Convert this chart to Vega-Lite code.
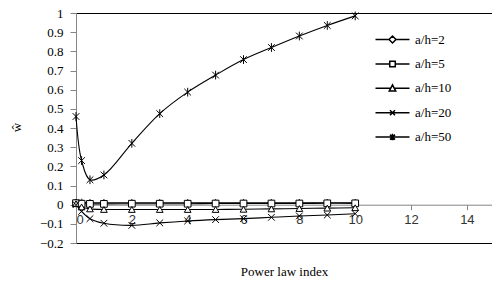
{
  "$schema": "https://vega.github.io/schema/vega-lite/v6.json",
  "width": 416,
  "height": 230,
  "autosize": "none",
  "padding": {"left": 76, "top": 13, "right": 0, "bottom": 39},
  "background": "white",
  "config": {"view": {"stroke": "black", "strokeWidth": 1}, "font": "Liberation Serif"},
  "data": {"values": [
    {"series": "a/h=2", "x": 0, "y": 0.012}, {"series": "a/h=2", "x": 0.2, "y": 0.011}, {"series": "a/h=2", "x": 0.5, "y": 0.01}, {"series": "a/h=2", "x": 1, "y": 0.01}, {"series": "a/h=2", "x": 2, "y": 0.01}, {"series": "a/h=2", "x": 3, "y": 0.01}, {"series": "a/h=2", "x": 4, "y": 0.01}, {"series": "a/h=2", "x": 5, "y": 0.01}, {"series": "a/h=2", "x": 6, "y": 0.01}, {"series": "a/h=2", "x": 7, "y": 0.01}, {"series": "a/h=2", "x": 8, "y": 0.01}, {"series": "a/h=2", "x": 9, "y": 0.01}, {"series": "a/h=2", "x": 10, "y": 0.01},
    {"series": "a/h=5", "x": 0, "y": 0.008}, {"series": "a/h=5", "x": 0.2, "y": 0.005}, {"series": "a/h=5", "x": 0.5, "y": 0.004}, {"series": "a/h=5", "x": 1, "y": 0.004}, {"series": "a/h=5", "x": 2, "y": 0.005}, {"series": "a/h=5", "x": 3, "y": 0.005}, {"series": "a/h=5", "x": 4, "y": 0.005}, {"series": "a/h=5", "x": 5, "y": 0.006}, {"series": "a/h=5", "x": 6, "y": 0.006}, {"series": "a/h=5", "x": 7, "y": 0.006}, {"series": "a/h=5", "x": 8, "y": 0.006}, {"series": "a/h=5", "x": 9, "y": 0.007}, {"series": "a/h=5", "x": 10, "y": 0.007},
    {"series": "a/h=10", "x": 0, "y": 0.005}, {"series": "a/h=10", "x": 0.2, "y": -0.012}, {"series": "a/h=10", "x": 0.5, "y": -0.022}, {"series": "a/h=10", "x": 1, "y": -0.025}, {"series": "a/h=10", "x": 2, "y": -0.025}, {"series": "a/h=10", "x": 3, "y": -0.025}, {"series": "a/h=10", "x": 4, "y": -0.025}, {"series": "a/h=10", "x": 5, "y": -0.025}, {"series": "a/h=10", "x": 6, "y": -0.024}, {"series": "a/h=10", "x": 7, "y": -0.022}, {"series": "a/h=10", "x": 8, "y": -0.02}, {"series": "a/h=10", "x": 9, "y": -0.018}, {"series": "a/h=10", "x": 10, "y": -0.016},
    {"series": "a/h=20", "x": 0, "y": 0.0}, {"series": "a/h=20", "x": 0.2, "y": -0.035}, {"series": "a/h=20", "x": 0.5, "y": -0.073}, {"series": "a/h=20", "x": 1, "y": -0.097}, {"series": "a/h=20", "x": 2, "y": -0.108}, {"series": "a/h=20", "x": 3, "y": -0.095}, {"series": "a/h=20", "x": 4, "y": -0.085}, {"series": "a/h=20", "x": 5, "y": -0.078}, {"series": "a/h=20", "x": 6, "y": -0.073}, {"series": "a/h=20", "x": 7, "y": -0.066}, {"series": "a/h=20", "x": 8, "y": -0.059}, {"series": "a/h=20", "x": 9, "y": -0.054}, {"series": "a/h=20", "x": 10, "y": -0.047},
    {"series": "a/h=50", "x": 0, "y": 0.46}, {"series": "a/h=50", "x": 0.2, "y": 0.23}, {"series": "a/h=50", "x": 0.5, "y": 0.13}, {"series": "a/h=50", "x": 1, "y": 0.155}, {"series": "a/h=50", "x": 2, "y": 0.32}, {"series": "a/h=50", "x": 3, "y": 0.475}, {"series": "a/h=50", "x": 4, "y": 0.587}, {"series": "a/h=50", "x": 5, "y": 0.676}, {"series": "a/h=50", "x": 6, "y": 0.757}, {"series": "a/h=50", "x": 7, "y": 0.82}, {"series": "a/h=50", "x": 8, "y": 0.88}, {"series": "a/h=50", "x": 9, "y": 0.935}, {"series": "a/h=50", "x": 10, "y": 0.985}
  ]},
  "encoding": {
    "x": {
      "field": "x", "type": "quantitative",
      "scale": {"domain": [0, 14.9], "nice": false, "zero": false},
      "axis": {
        "values": [0, 2, 4, 6, 8, 10, 12, 14],
        "offset": -38.3,
        "grid": false,
        "domainColor": "#868686", "tickColor": "#868686", "tickSize": 5,
        "labelFont": "Liberation Sans", "labelFontSize": 13, "labelColor": "#333333", "labelPadding": 4,
        "title": "Power law index", "titleFont": "Liberation Serif", "titleFontSize": 13, "titleFontWeight": "normal",
        "titleY": 67, "titleBaseline": "middle", "titleColor": "black"
      }
    },
    "y": {
      "field": "y", "type": "quantitative",
      "scale": {"domain": [-0.2, 1], "nice": false, "zero": false},
      "axis": {
        "values": [-0.2, -0.1, 0, 0.1, 0.2, 0.3, 0.4, 0.5, 0.6, 0.7, 0.8, 0.9, 1],
        "format": "~g",
        "grid": false,
        "domainColor": "#868686", "tickColor": "#868686", "tickSize": 6,
        "labelFont": "Liberation Serif", "labelFontSize": 13, "labelColor": "black", "labelPadding": 7,
        "title": "ŵ", "titleFont": "Liberation Serif", "titleFontSize": 13, "titleFontWeight": "normal",
        "titleX": -60, "titleY": 114, "titleAlign": "center", "titleBaseline": "middle", "titleColor": "black"
      }
    }
  },
  "resolve": {"scale": {"shape": "independent"}, "legend": {"shape": "independent"}},
  "layer": [
    {
      "mark": {"type": "line", "interpolate": "catmull-rom", "color": "black", "strokeWidth": 1.1},
      "encoding": {"detail": {"field": "series"}}
    },
    {
      "mark": {"type": "point", "filled": false, "fill": "white", "stroke": "black", "strokeWidth": 1, "size": 45, "opacity": 1},
      "encoding": {
        "shape": {
          "field": "series", "type": "nominal",
          "scale": {
            "domain": ["a/h=2", "a/h=5", "a/h=10", "a/h=20", "a/h=50"],
            "range": ["diamond", "square", "triangle-up", "M-1,-1L1,1M-1,1L1,-1", "M-1,-1L1,1M-1,1L1,-1M0,-1.3V1.3"]
          },
          "legend": null
        }
      }
    },
    {
      "transform": [{"filter": "datum.x > 100"}],
      "mark": {"type": "point", "filled": false, "fill": "white", "stroke": "black", "strokeWidth": 1, "opacity": 1},
      "encoding": {
        "shape": {
          "field": "series", "type": "nominal",
          "scale": {
            "domain": ["a/h=2", "a/h=5", "a/h=10", "a/h=20", "a/h=50"],
            "range": [
              "M-3.4,0L-0.7,0M0.7,0L3.4,0M0,-0.7L0.7,0L0,0.7L-0.7,0Z",
              "M-3.4,0L-0.55,0M0.55,0L3.4,0M-0.55,-0.55L0.55,-0.55L0.55,0.55L-0.55,0.55Z",
              "M-3.4,0L-0.36,0M0.36,0L3.4,0M0,-0.7L0.65,0.55L-0.65,0.55Z",
              "M-3.4,0L3.4,0M-0.5,-0.5L0.5,0.5M-0.5,0.5L0.5,-0.5",
              "M-3.4,0L3.4,0M-0.5,-0.5L0.5,0.5M-0.5,0.5L0.5,-0.5M0,-0.65L0,0.65"
            ]
          },
          "legend": {
            "orient": "none", "legendX": 310, "legendY": 20,
            "title": null,
            "labelFont": "Liberation Serif", "labelFontSize": 13, "labelColor": "black",
            "labelOffset": 16, "rowPadding": 10.4
          }
        }
      }
    }
  ]
}
